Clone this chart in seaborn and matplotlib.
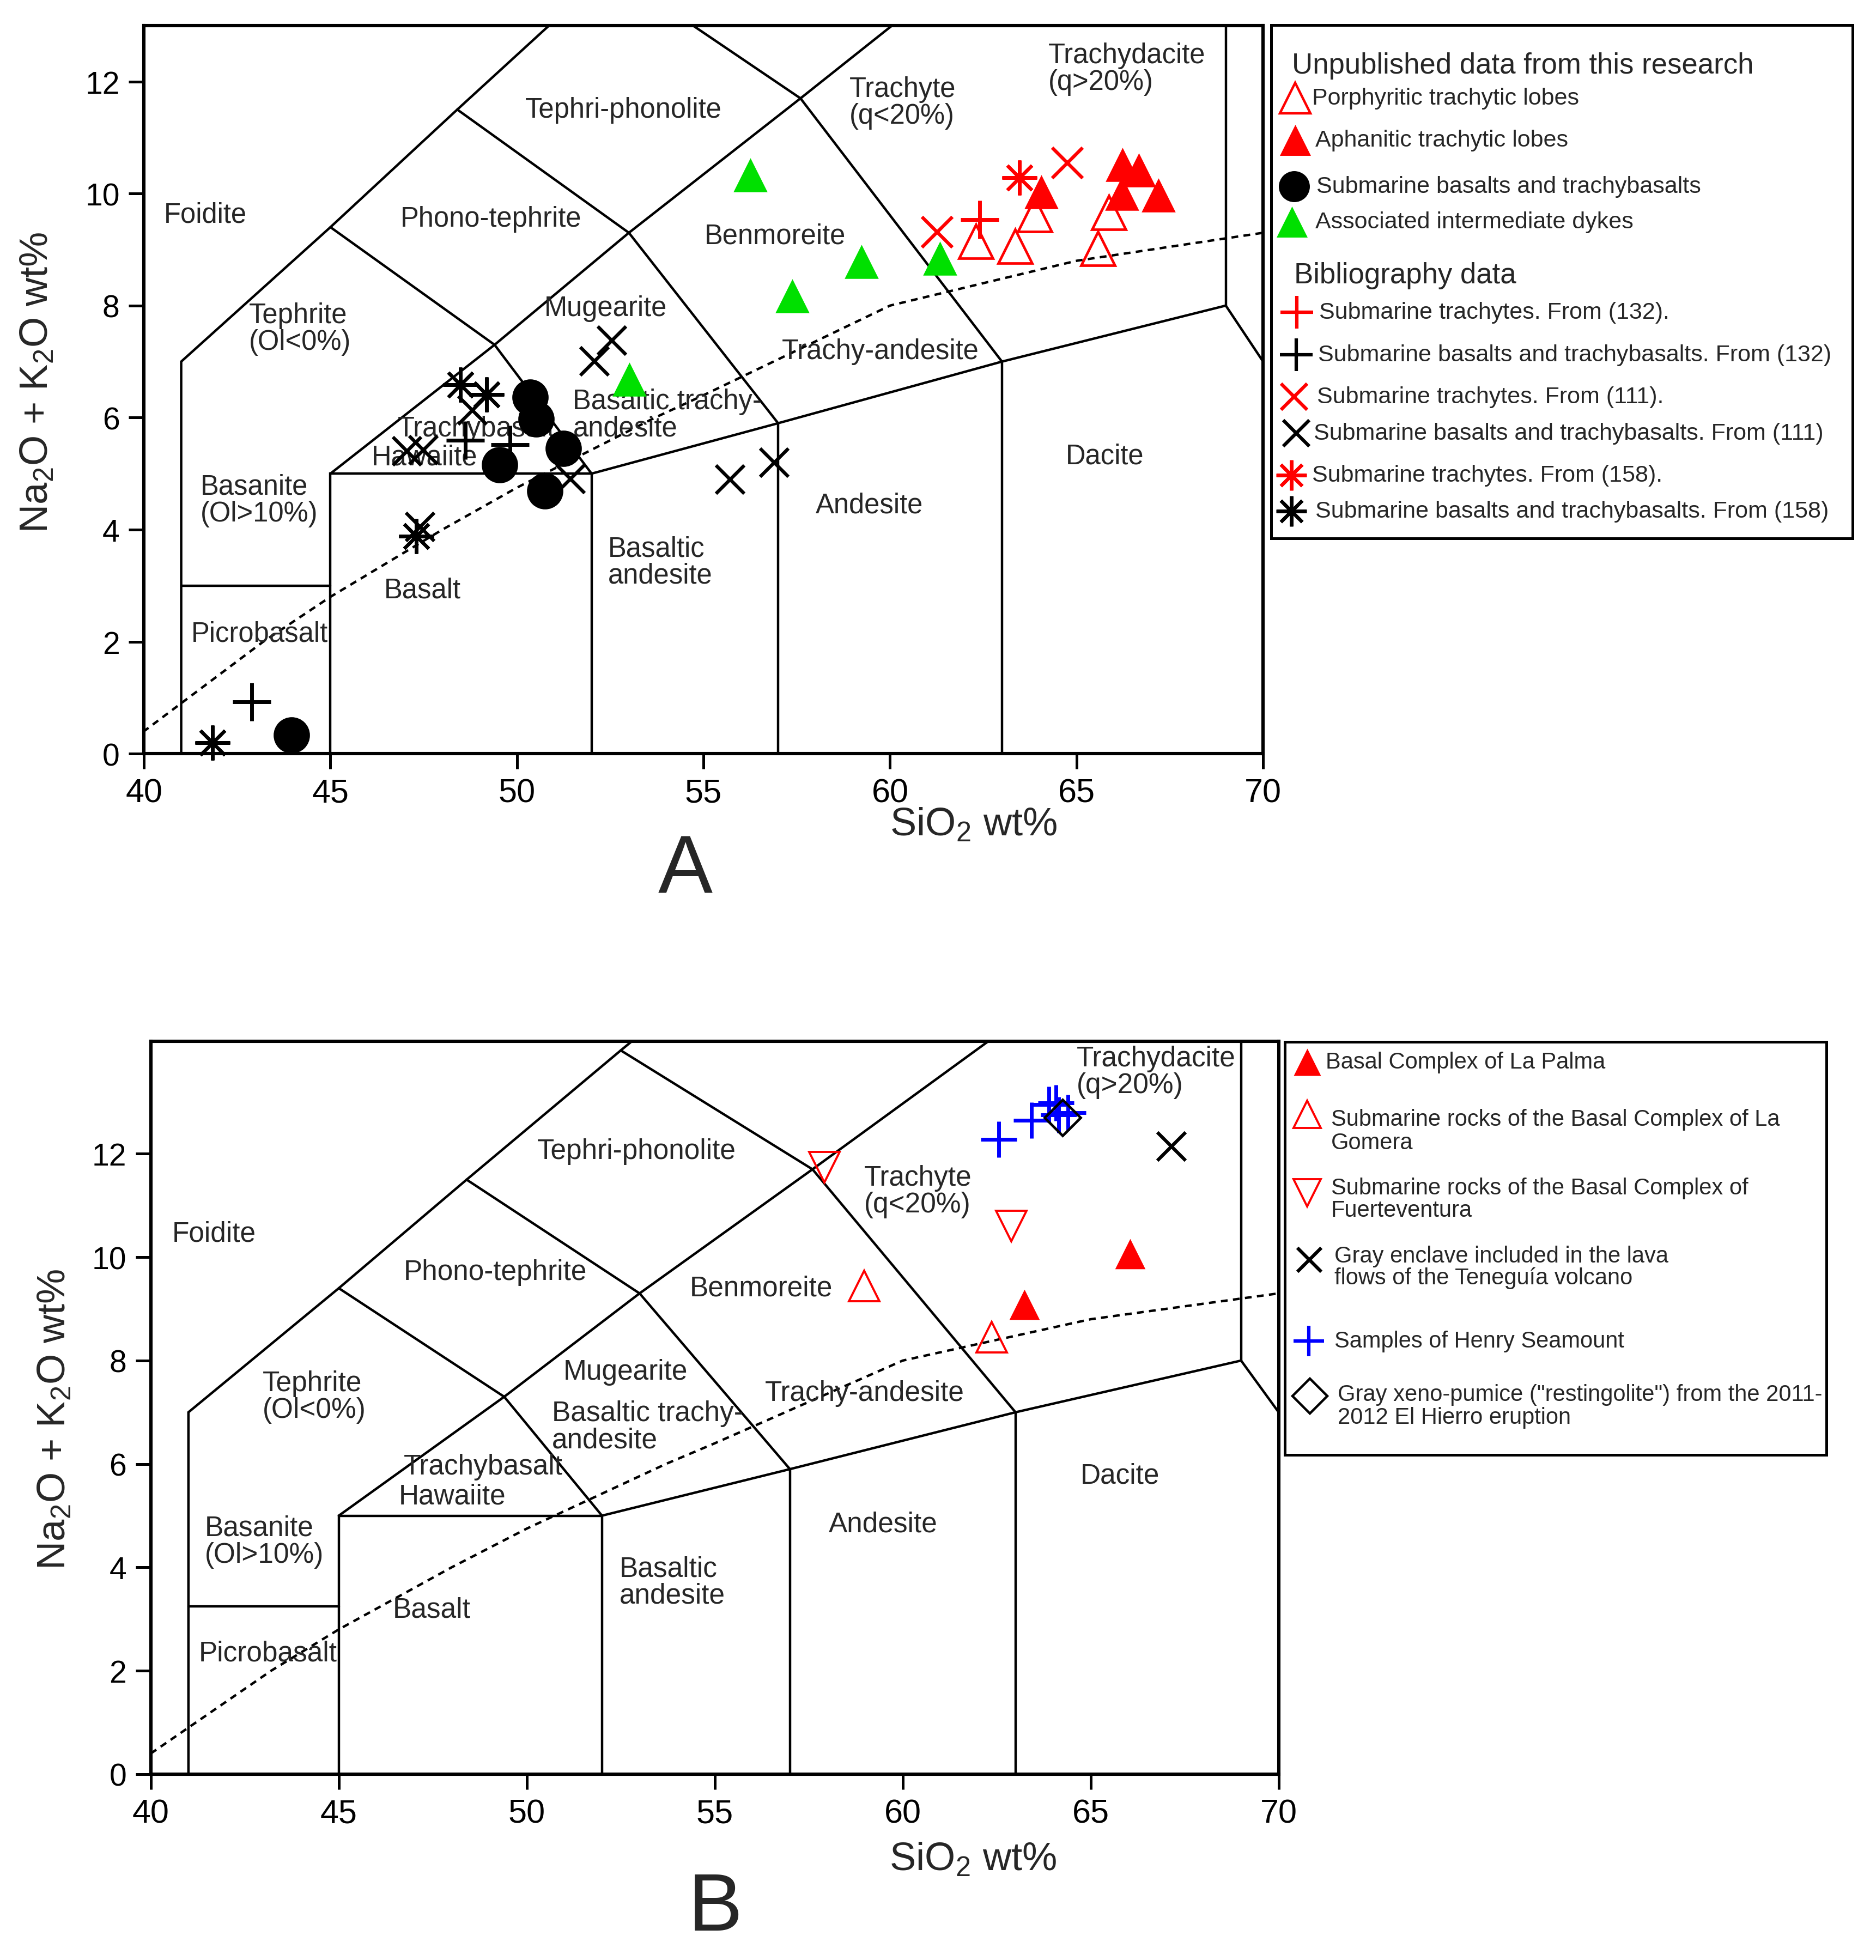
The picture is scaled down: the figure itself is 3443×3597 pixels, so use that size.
import matplotlib
matplotlib.use('Agg')
import matplotlib.pyplot as plt
import seaborn as sns

# ── Panel A data (SiO2, Na2O+K2O) ─────────────────────────────────────────
A_POR_X = [62.30, 63.35, 63.88, 65.86, 65.57]
A_POR_Y = [9.15, 9.06, 9.62, 9.66, 9.02]
A_APH_X = [64.05, 66.23, 66.67, 66.21, 67.19]
A_APH_Y = [10.03, 10.52, 10.42, 10.00, 9.97]
A_BAS_X = [43.96, 50.36, 50.51, 51.24, 49.53, 50.75]
A_BAS_Y = [0.33, 6.36, 5.97, 5.45, 5.16, 4.69]
A_DYK_X = [53.01, 56.25, 59.24, 57.38, 61.34]
A_DYK_Y = [6.68, 10.33, 8.79, 8.17, 8.84]
A_TR132_X = [62.41]
A_TR132_Y = [9.54]
A_BA132_X = [42.89, 48.61, 49.82]
A_BA132_Y = [0.93, 5.60, 5.52]
A_TR111_X = [61.27, 64.76]
A_TR111_Y = [9.31, 10.55]
A_BA111_X = [52.08, 52.55, 51.43, 55.72, 56.89, 48.80, 47.05, 47.49, 47.40]
A_BA111_Y = [7.01, 7.38, 4.90, 4.89, 5.20, 6.13, 5.40, 5.42, 4.05]
A_TR158_X = [63.47]
A_TR158_Y = [10.28]
A_BA158_X = [41.84, 48.49, 49.19, 47.30]
A_BA158_Y = [0.20, 6.59, 6.41, 3.88]

# ── Panel B data ──────────────────────────────────────────────────────────
B_PALMA_X = [66.04, 63.24]
B_PALMA_Y = [10.06, 9.08]
B_GOMERA_X = [58.97, 62.37]
B_GOMERA_Y = [9.44, 8.45]
B_FUERTE_X = [57.91, 62.89]
B_FUERTE_Y = [11.74, 10.60]
B_TENEG_X = [67.15]
B_TENEG_Y = [12.14]
B_HENRY_X = [62.56, 63.43, 63.89, 64.08, 64.39, 64.15]
B_HENRY_Y = [12.28, 12.65, 12.95, 12.98, 12.79, 12.75]
B_REST_X = [64.25]
B_REST_Y = [12.70]

# ── TAS diagram geometry ──────────────────────────────────────────────────
TAS_LINES = [
    [(41, 0), (41, 7), (45, 9.4), (48.4, 11.5), (52.5, 14), (53.0, 14.3)],
    [(45, 0), (45, 5), (52, 5), (52, 0)],
    [(45, 5), (49.4, 7.3), (52, 5)],
    [(45, 9.4), (49.4, 7.3), (53, 9.3), (57.6, 11.7), (63, 14.56)],
    [(48.4, 11.5), (53, 9.3), (57, 5.9)],
    [(52.5, 14), (57.6, 11.7), (63, 7)],
    [(52, 5), (57, 5.9), (63, 7), (69, 8), (70, 7)],
    [(57, 0), (57, 5.9)],
    [(63, 0), (63, 7)],
    [(69, 8), (69, 14.5)],
]
DIVIDE_X = [39.2, 40, 43.2, 45, 48, 50, 53.7, 55, 60, 65, 70]
DIVIDE_Y = [0, 0.4, 2, 2.8, 4, 4.75, 6, 6.4, 8, 8.8, 9.3]

A_LABELS = [
    ('Foidite', 40.54, 9.62), ('Tephri-phonolite', 50.22, 11.5),
    ('Phono-tephrite', 46.87, 9.55), ('Tephrite\n(Ol<0%)', 42.82, 7.59),
    ('Trachyte\n(q<20%)', 58.91, 11.63), ('Trachydacite\n(q>20%)', 64.24, 12.23),
    ('Benmoreite', 55.02, 9.24), ('Mugearite', 50.73, 7.95),
    ('Trachy-andesite', 57.1, 7.19), ('Basaltic trachy-\nandesite', 51.5, 6.05),
    ('Trachybasalt', 46.81, 5.80), ('Hawaiite', 46.1, 5.29),
    ('Basanite\n(Ol>10%)', 41.51, 4.53), ('Picrobasalt', 41.27, 2.14),
    ('Basalt', 46.44, 2.92), ('Basaltic\nandesite', 52.44, 3.42),
    ('Andesite', 58.0, 4.44), ('Dacite', 64.71, 5.31),
]
B_LABELS = [
    ('Foidite', 40.57, 10.46), ('Tephri-phonolite', 50.27, 12.05),
    ('Phono-tephrite', 46.73, 9.71), ('Tephrite\n(Ol<0%)', 42.97, 7.3),
    ('Trachyte\n(q<20%)', 58.97, 11.28), ('Trachydacite\n(q>20%)', 64.63, 13.59),
    ('Benmoreite', 54.33, 9.4), ('Mugearite', 50.97, 7.78),
    ('Basaltic trachy-\nandesite', 50.67, 6.72), ('Trachy-andesite', 56.33, 7.37),
    ('Trachybasalt', 46.73, 5.95), ('Hawaiite', 46.6, 5.37),
    ('Basanite\n(Ol>10%)', 41.43, 4.5), ('Picrobasalt', 41.27, 2.34),
    ('Basalt', 46.43, 3.18), ('Basaltic\nandesite', 52.47, 3.71),
    ('Andesite', 58.03, 4.84), ('Dacite', 64.73, 5.78),
]

RED = '#FF0000'
GREEN = '#00E000'
BLUE = '#0000FF'
ASTER = (8, 2, 0)

sns.set_theme(style='white')
plt.rcParams['font.family'] = ['Liberation Sans', 'DejaVu Sans']
plt.rcParams['mathtext.fontset'] = 'custom'
plt.rcParams['mathtext.rm'] = 'Liberation Sans'
plt.rcParams['mathtext.default'] = 'regular'


def put(ax, x, y, marker, ms, color, open_=False, lw=0, z=5):
    # filled symbols via seaborn, line / hollow symbols via plot
    if not open_ and marker in ('o', '^', 'v'):
        sns.scatterplot(x=x, y=y, marker=marker, s=ms ** 2, color=color,
                        edgecolor=color, linewidth=0, ax=ax, zorder=z,
                        legend=False)
    else:
        ax.plot(x, y, linestyle='none', marker=marker, markersize=ms,
                markerfacecolor='none', markeredgecolor=color,
                markeredgewidth=lw, zorder=z, clip_on=False)


def draw_tas(ax, ymax, picro, labels, fs):
    for seg in TAS_LINES:
        xs, ys = zip(*seg)
        ax.plot(xs, ys, color='black', lw=3.2, zorder=1, solid_joinstyle='miter')
    ax.plot([41, 45], [picro, picro], color='black', lw=3.2, zorder=1)
    ax.plot(DIVIDE_X, DIVIDE_Y, color='black', lw=3.2, ls=(0, (2.8, 2.2)), zorder=1)
    for txt, x, y in labels:
        ax.text(x, y, txt, fontsize=fs, ha='left', va='center',
                linespacing=1.0, zorder=2)
    ax.set_xlim(40, 70)
    ax.set_ylim(0, ymax)
    ax.set_xticks(range(40, 71, 5))
    ax.set_yticks(range(0, 13, 2))
    ax.tick_params(direction='out', length=20, width=3.6, pad=12, colors='black')
    ax.tick_params(axis='x', labelsize=44)
    ax.tick_params(axis='y', labelsize=41)
    ax.tick_params(top=False, right=False, bottom=True, left=True)
    for sp in ax.spines.values():
        sp.set_linewidth(4.4)
        sp.set_color('black')
        sp.set_visible(True)
    ax.grid(False)
    ax.set_xlabel('')
    ax.set_ylabel('')


fig = plt.figure(figsize=(34.43, 35.98), dpi=100)
fig.patch.set_facecolor('white')

# ── Panel A ───────────────────────────────────────────────────────────────
axA = fig.add_axes([0.0767, 0.6153, 0.5966, 0.3714])
draw_tas(axA, 13.0, 3.0, A_LABELS, 36.5)
put(axA, A_POR_X, A_POR_Y, '^', 45, RED, open_=True, lw=3.4)
put(axA, A_APH_X, A_APH_Y, '^', 45, RED)
put(axA, A_BAS_X, A_BAS_Y, 'o', 48, 'black')
put(axA, A_DYK_X, A_DYK_Y, '^', 45, GREEN)
put(axA, A_TR132_X, A_TR132_Y, '+', 50, RED, lw=5)
put(axA, A_BA132_X, A_BA132_Y, '+', 50, 'black', lw=5)
put(axA, A_TR111_X, A_TR111_Y, 'x', 40, RED, lw=4.5)
put(axA, A_BA111_X, A_BA111_Y, 'x', 37, 'black', lw=4.5)
put(axA, A_TR158_X, A_TR158_Y, ASTER, 46, RED, lw=4.5)
put(axA, A_BA158_X, A_BA158_Y, ASTER, 46, 'black', lw=4.5)
axA.text(0.741, -0.098, 'SiO$_2$ wt%', transform=axA.transAxes,
         fontsize=52, ha='center', va='center')
fig.text(0.020, 0.805, 'Na$_2$O + K$_2$O wt%', rotation=90,
         fontsize=52, ha='center', va='center')
fig.text(0.3653, 0.5554, 'A', fontsize=108, ha='center', va='center')

# ── Panel B ───────────────────────────────────────────────────────────────
axB = fig.add_axes([0.0804, 0.0948, 0.6012, 0.3739])
draw_tas(axB, 14.18, 3.25, B_LABELS, 37)
put(axB, B_PALMA_X, B_PALMA_Y, '^', 40, RED)
put(axB, B_GOMERA_X, B_GOMERA_Y, '^', 40, RED, open_=True, lw=2.8)
put(axB, B_FUERTE_X, B_FUERTE_Y, 'v', 40, RED, open_=True, lw=2.8)
put(axB, B_TENEG_X, B_TENEG_Y, 'x', 38, 'black', lw=4.5)
put(axB, B_HENRY_X, B_HENRY_Y, '+', 47, BLUE, lw=5)
put(axB, B_REST_X, B_REST_Y, 'D', 34, 'black', open_=True, lw=3.4)
axB.text(0.729, -0.117, 'SiO$_2$ wt%', transform=axB.transAxes,
         fontsize=52, ha='center', va='center')
fig.text(0.0293, 0.276, 'Na$_2$O + K$_2$O wt%', rotation=90,
         fontsize=52, ha='center', va='center')
fig.text(0.3813, 0.026, 'B', fontsize=108, ha='center', va='center')


def legend_box(rect, xlim, ylim):
    lg = fig.add_axes(rect)
    lg.set_xlim(*xlim)
    lg.set_ylim(*ylim)
    lg.set_xticks([])
    lg.set_yticks([])
    lg.set_facecolor('white')
    for sp in lg.spines.values():
        sp.set_visible(True)
        sp.set_linewidth(3.6)
        sp.set_color('black')
    return lg


# ── Legend A (coordinates in image pixels) ────────────────────────────────
lgA = legend_box([0.6775, 0.7251, 0.3099, 0.2617], (2332.7, 3399.6), (989, 47.5))
lgA.text(2371, 120.6, 'Unpublished data from this research', fontsize=38, va='center')
lgA.text(2375, 506, 'Bibliography data', fontsize=38, va='center')
LEG_A = [
    ('^', RED, True, 3.2, 41, 2376.6, 181, 2408.5, 'Porphyritic trachytic lobes'),
    ('^', RED, False, 0, 41, 2376.6, 258, 2414, 'Aphanitic trachytic lobes'),
    ('o', 'black', False, 0, 41, 2375, 342.5, 2415.6, 'Submarine basalts and trachybasalts'),
    ('^', GREEN, False, 0, 41, 2371, 408, 2414, 'Associated intermediate dykes'),
    ('+', RED, True, 4.5, 43, 2380, 573.8, 2421, 'Submarine trachytes. From (132).'),
    ('+', 'black', True, 4.5, 43, 2378.8, 652, 2419, 'Submarine basalts and trachybasalts. From (132)'),
    ('x', RED, True, 4.5, 34, 2375, 728.8, 2417, 'Submarine trachytes. From (111).'),
    ('x', 'black', True, 4.5, 34, 2378.8, 795.6, 2410.6, 'Submarine basalts and trachybasalts. From (111)'),
    (ASTER, RED, True, 4.5, 40, 2369.6, 872.5, 2408.5, 'Submarine trachytes. From (158).'),
    (ASTER, 'black', True, 4.5, 40, 2369.6, 939.4, 2414, 'Submarine basalts and trachybasalts. From (158)'),
]
for mk, col, op, lw, ms, mx, my, tx, label in LEG_A:
    put(lgA, [mx], [my], mk, ms, col, open_=op, lw=lw)
    lgA.text(tx, my, label, fontsize=31, va='center')

# ── Legend B ──────────────────────────────────────────────────────────────
lgB = legend_box([0.6849, 0.2577, 0.2886, 0.2107], (2358, 3351.7), (2670.8, 1912.6))
LEG_B = [
    ('^', RED, False, 0, 36, 2398.6, 1950.4, 2433,
     [('Basal Complex of La Palma', 1950.4)]),
    ('^', RED, True, 2.8, 36, 2398.6, 2046, 2442.8,
     [('Submarine rocks of the Basal Complex of La', 2055), ('Gomera', 2097.5)]),
    ('v', RED, True, 2.8, 36, 2398.6, 2189.7, 2442.8,
     [('Submarine rocks of the Basal Complex of', 2181), ('Fuerteventura', 2222.4)]),
    ('x', 'black', True, 4.5, 32, 2403, 2313, 2449.3,
     [('Gray enclave included in the lava', 2305.5), ('flows of the Teneguía volcano', 2345.8)]),
    ('+', BLUE, True, 4.5, 40, 2402, 2461.7, 2449.3,
     [('Samples of Henry Seamount', 2461.7)]),
    ('D', 'black', True, 3.2, 33, 2404, 2562.5, 2455,
     [('Gray xeno-pumice ("restingolite") from the 2011-', 2560), ('2012 El Hierro eruption', 2601.8)]),
]
for mk, col, op, lw, ms, mx, my, tx, lines in LEG_B:
    put(lgB, [mx], [my], mk, ms, col, open_=op, lw=lw)
    for label, ty in lines:
        lgB.text(tx, ty, label, fontsize=30, va='center')

fig.savefig('out.png', dpi=100, facecolor='white')
